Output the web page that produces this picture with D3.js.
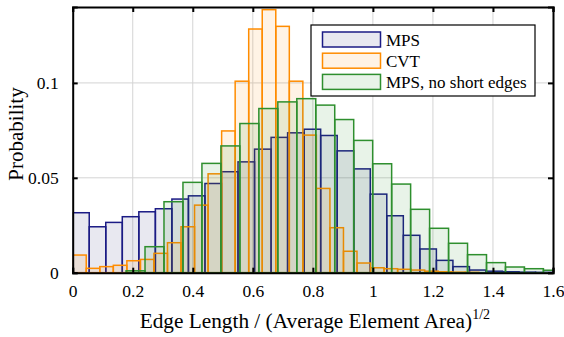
<!DOCTYPE html>
<html>
<head>
<meta charset="utf-8">
<script src="https://cdn.jsdelivr.net/npm/d3@7"></script>
<style>
  html, body { margin: 0; padding: 0; background: #fff; }
</style>
</head>
<body>
<div id="chart"></div>
<script>
// histogram data (probability per bin)

var mpsBin = [0, 0.05507];      // [first edge, bin width]
var mpsValues = [0.0316, 0.0242, 0.0265, 0.0295, 0.0321, 0.0337, 0.0388, 0.0405, 0.0470, 0.0532,
                 0.0584, 0.0651, 0.0713, 0.0737, 0.0756, 0.0723, 0.0642, 0.0547, 0.0414, 0.0300,
                 0.0197, 0.0125, 0.0065, 0.0032, 0.0014, 0.0008, 0.0005, 0.0003, 0.0002];

var cvtBin = [0, 0.0451];
var cvtValues = [0.0093, 0.0023, 0.0032, 0.0039, 0.0063, 0.0070, 0.0102, 0.0158, 0.0242, 0.0356,
                 0.0521, 0.0747, 0.1009, 0.1284, 0.1386, 0.1298, 0.1009, 0.0725, 0.0444, 0.0237,
                 0.0113, 0.0051, 0.0026, 0.0021, 0.0018, 0.0014, 0.0008, 0.0005, 0.0003, 0.0002];

var nseBin = [0.1777, 0.0632];
var nseValues = [0.0010, 0.0137, 0.0374, 0.0476, 0.0576, 0.0668, 0.0786, 0.0865, 0.0900, 0.0917,
                 0.0883, 0.0807, 0.0697, 0.0574, 0.0467, 0.0334, 0.0234, 0.0155, 0.0095, 0.0053,
                 0.0030, 0.0021, 0.0013];

var seriesNames = ["MPS", "CVT", "MPS, no short edges"];
var xTicks = [0, 0.2, 0.4, 0.6, 0.8, 1, 1.2, 1.4, 1.6];
var yTicks = [0, 0.05, 0.1];

var w = 564,
    h = 337,
    svg = d3.select("#chart")
            .append("svg")
            .attr("width", w)
            .attr("height", h)
            .style("font-family", "'Liberation Serif', 'Times New Roman', serif");

var x = d3.scaleLinear().domain([0, 1.6]).range([72.7, 553]);
var y = d3.scaleLinear().domain([0, 0.14]).range([272.7, 7]);

var series = [
    {name: seriesNames[0], bin: mpsBin, values: mpsValues, stroke: "#1b1b85", fill: "#191970"},
    {name: seriesNames[1], bin: cvtBin, values: cvtValues, stroke: "#ff8c00", fill: "#ff8c00"},
    {name: seriesNames[2], bin: nseBin, values: nseValues, stroke: "#2e8f2e", fill: "#228b22"}
];

svg.append("clipPath").attr("id", "plotclip")
    .append("rect")
    .attr("x", x(0)).attr("y", y(0.14))
    .attr("width", x(1.6) - x(0)).attr("height", y(0) - y(0.14));

// grid
var grid = svg.append("g").attr("stroke", "#d4d4d4").attr("stroke-width", 1);
grid.selectAll("line.gx").data(xTicks.slice(1, -1)).enter().append("line")
    .attr("x1", function(d) { return x(d); }).attr("x2", function(d) { return x(d); })
    .attr("y1", y(0)).attr("y2", y(0.14));
grid.selectAll("line.gy").data(yTicks.slice(1)).enter().append("line")
    .attr("y1", function(d) { return y(d); }).attr("y2", function(d) { return y(d); })
    .attr("x1", x(0)).attr("x2", x(1.6));

// bars
var bars = svg.append("g").attr("clip-path", "url(#plotclip)");
series.forEach(function(s) {
    bars.append("g").selectAll("rect").data(s.values).enter().append("rect")
        .attr("x", function(d, i) { return x(s.bin[0] + i * s.bin[1]); })
        .attr("width", function(d, i) { return x(s.bin[0] + (i + 1) * s.bin[1]) - x(s.bin[0] + i * s.bin[1]); })
        .attr("y", function(d) { return y(d); })
        .attr("height", function(d) { return y(0) - y(d); })
        .attr("fill", s.fill)
        .attr("fill-opacity", 0.1)
        .attr("stroke", s.stroke)
        .attr("stroke-width", 1.5);
});

// axes box with inward ticks
var fmt = function(d) { return d === 0 ? "0" : d3.format("~g")(d); };
svg.append("g")
    .attr("transform", "translate(0," + y(0) + ")")
    .call(d3.axisBottom(x).tickValues(xTicks).tickSize(-5).tickPadding(12).tickFormat(fmt))
    .call(styleAxis);
svg.append("g")
    .attr("transform", "translate(0," + y(0.14) + ")")
    .call(d3.axisTop(x).tickValues(xTicks).tickSize(-5).tickFormat(""))
    .call(styleAxis);
svg.append("g")
    .attr("transform", "translate(" + x(0) + ",0)")
    .call(d3.axisLeft(y).tickValues(yTicks).tickSize(-5).tickPadding(14).tickFormat(fmt))
    .call(styleAxis);
svg.append("g")
    .attr("transform", "translate(" + x(1.6) + ",0)")
    .call(d3.axisRight(y).tickValues(yTicks).tickSize(-5).tickFormat(""))
    .call(styleAxis);

function styleAxis(g) {
    g.attr("font-family", "'Liberation Serif', 'Times New Roman', serif")
        .attr("font-size", 17.5);
    g.select(".domain").attr("stroke", "#000").attr("stroke-width", 2);
    g.selectAll(".tick line").attr("stroke", "#000").attr("stroke-width", 2);
    g.selectAll(".tick text").attr("fill", "#000");
}

// axis titles
var xt = svg.append("text")
    .attr("x", (x(0) + x(1.6)) / 2 + 2).attr("y", 328)
    .attr("text-anchor", "middle")
    .style("font-size", "21.3px");
xt.append("tspan").text("Edge Length / (Average Element Area)");
xt.append("tspan").attr("dy", -9).style("font-size", "14px").text("1/2");

svg.append("text")
    .attr("transform", "translate(23," + 134 + ") rotate(-90)")
    .attr("text-anchor", "middle")
    .style("font-size", "21px")
    .text("Probability");

// legend
var lg = svg.append("g");
lg.append("rect")
    .attr("x", 311).attr("y", 25).attr("width", 224).attr("height", 71)
    .attr("fill", "#fff").attr("stroke", "#000").attr("stroke-width", 1.2);
series.forEach(function(s, i) {
    var yy = 32 + i * 21.2;
    lg.append("rect")
        .attr("x", 322.5).attr("y", yy).attr("width", 58).attr("height", 15)
        .attr("fill", s.fill).attr("fill-opacity", 0.1)
        .attr("stroke", s.stroke).attr("stroke-width", 1.5);
    lg.append("text")
        .attr("x", 386).attr("y", yy + 13.5)
        .style("font-size", "17px")
        .text(s.name);
});
</script>
</body>
</html>
